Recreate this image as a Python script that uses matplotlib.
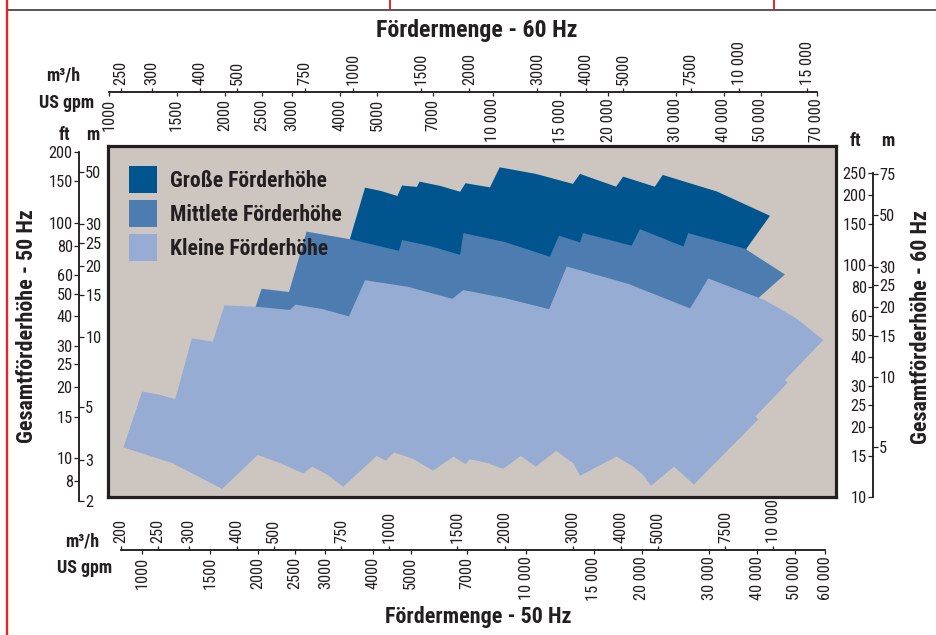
import matplotlib
matplotlib.use("Agg")
import matplotlib.pyplot as plt
from matplotlib.lines import Line2D
from matplotlib.patches import Patch
from matplotlib.ticker import NullLocator, FixedLocator, FixedFormatter

plt.rcParams['font.family'] = ['Roboto Condensed', 'DejaVu Sans']

# ---------------- data (flow in m³/h @50 Hz, head in m @50 Hz) ----------------
kleine_q = [203, 227, 250, 277, 306, 347, 372, 452, 551, 570, 672, 785, 865, 1120, 1460, 1560, 2000, 2610, 2900, 4190,
            6080, 6780, 9530, 11480, 13520, 10740, 10920, 9000, 9150, 6220, 5520, 4810, 4590, 4320, 3910, 3140, 3020,
            2720, 2410, 2200, 1980, 1790, 1620, 1580, 1470, 1300, 1160, 1030, 979, 927, 759, 692, 630, 597, 519, 454,
            367, 272]
kleine_h = [3.38, 5.84, 5.68, 5.43, 9.85, 9.53, 13.6, 13.4, 13.0, 13.7, 13.1, 12.2, 17.4, 16.3, 14.5, 15.8, 14.6, 13.1,
            19.9, 16.8, 13.2, 17.7, 14.3, 12.0, 9.69, 6.54, 6.37, 4.58, 4.45, 2.35, 2.80, 2.32, 2.58, 2.80, 3.09, 2.56,
            2.89, 3.27, 2.80, 3.11, 2.74, 2.91, 3.01, 2.87, 3.09, 2.69, 3.01, 3.22, 2.97, 3.11, 2.30, 2.58, 2.80, 2.62,
            2.90, 3.14, 2.25, 2.90]
mittel_q = [447, 465, 548, 609, 800, 1060, 1080, 1280, 1530, 1560, 2000, 2620, 2770, 3140, 3200, 4280, 4500, 5840,
            6010, 8450, 10740, 9150, 6450, 585]
mittel_h = [13.2, 16.0, 15.5, 28.0, 25.9, 23.2, 25.8, 24.3, 22.3, 27.6, 25.3, 21.9, 26.9, 25.2, 27.6, 24.4, 28.7, 24.2,
            27.6, 23.7, 18.4, 14.6, 10.7, 10.7]
gross_q = [790, 865, 952, 1050, 1080, 1180, 1200, 1360, 1530, 1580, 1830, 1940, 2410, 3010, 3140, 3900, 4070, 4920,
           5160, 7140, 9820, 8540, 8200, 839]
gross_h = [26.1, 43.1, 41.7, 39.7, 44.0, 43.4, 45.7, 43.8, 41.4, 45.0, 43.2, 52.6, 49.3, 44.7, 49.3, 43.5, 48.0, 43.5,
           48.8, 41.5, 32.7, 23.8, 18.3, 18.3]

series_names = ["Große Förderhöhe", "Mittlete Förderhöhe", "Kleine Förderhöhe"]

top_m3h = [250, 300, 400, 500, 750, 1000, 1500, 2000, 3000, 4000, 5000, 7500, 10000, 15000]
top_gpm = [1000, 1500, 2000, 2500, 3000, 4000, 5000, 7000, 10000, 15000, 20000, 30000, 40000, 50000, 70000]
bot_m3h = [200, 250, 300, 400, 500, 750, 1000, 1500, 2000, 3000, 4000, 5000, 7500, 10000]
bot_gpm = [1000, 1500, 2000, 2500, 3000, 4000, 5000, 7000, 10000, 15000, 20000, 30000, 40000, 50000, 60000]
left_ft = [200, 150, 100, 80, 60, 50, 40, 30, 25, 20, 15, 10, 8]
left_m = [50, 30, 25, 20, 15, 10, 5, 3, 2]
right_ft = [250, 200, 150, 100, 80, 60, 50, 40, 30, 25, 20, 15, 10]
right_m = [75, 50, 30, 25, 20, 15, 10, 5]

# ---------------- style ----------------
C_DARK = "#00558f"
C_MID = "#4c7cb0"
C_LIGHT = "#97acd3"
C_BG = "#cdc6c0"
C_INK = "#231f20"
C_RED = "#e2262c"

W, H = 936, 635
fig = plt.figure(figsize=(W / 100, H / 100), dpi=100)
fig.patch.set_facecolor("white")


def rect(x0, y0, x1, y1):
    return [x0 / W, 1 - y1 / H, (x1 - x0) / W, (y1 - y0) / H]


def lab(v):
    return "{:,}".format(v).replace(",", " ") if v >= 10000 else str(v)


# ---------------- main plot ----------------
ax = fig.add_axes(rect(108, 146, 836, 497))
ax.set_xscale("log")
ax.set_yscale("log")
ax.set_xlim(185, 14590)
ax.set_ylim(2.08, 64.8)
ax.set_facecolor(C_BG)
ax.xaxis.set_major_locator(NullLocator()); ax.xaxis.set_minor_locator(NullLocator())
ax.yaxis.set_major_locator(NullLocator()); ax.yaxis.set_minor_locator(NullLocator())
for s in ax.spines.values():
    s.set_linewidth(2.3)
    s.set_color(C_INK)
ax.fill(gross_q, gross_h, color=C_DARK, lw=0, zorder=1)
ax.fill(mittel_q, mittel_h, color=C_MID, lw=0, zorder=2)
ax.fill(kleine_q, kleine_h, color=C_LIGHT, lw=0, zorder=3)

handles = [Patch(facecolor=c, edgecolor="none") for c in (C_DARK, C_MID, C_LIGHT)]
leg = ax.legend(handles, series_names, loc="upper left", bbox_to_anchor=(21 / 728, 1 - 20 / 351),
                frameon=False, borderpad=0, borderaxespad=0, handlelength=1.29, handleheight=1.575,
                handletextpad=0.6, labelspacing=0.3,
                prop={"family": ['Roboto Condensed', 'DejaVu Sans'], "weight": "bold", "size": 15.6})
for t in leg.get_texts():
    t.set_color(C_INK)

TICK_FS = 11.8


def hscale(x0, x1, y, lim, ticks, side):
    a = fig.add_axes(rect(x0, y - 0.01, x1, y + 0.01))
    a.patch.set_visible(False)
    a.set_xscale("log")
    a.set_xlim(lim)
    a.set_yticks([])
    a.xaxis.set_minor_locator(NullLocator())
    a.xaxis.set_major_locator(FixedLocator(ticks))
    a.xaxis.set_major_formatter(FixedFormatter([lab(t) for t in ticks]))
    for k, s in a.spines.items():
        s.set_visible(k == side)
        s.set_linewidth(1.1)
        s.set_color(C_INK)
    if side == "top":
        a.tick_params(axis="x", top=True, bottom=False, labeltop=True, labelbottom=False,
                      direction="out", length=3.2, width=0.9, pad=1.5, labelrotation=90,
                      labelsize=TICK_FS, colors=C_INK)
    else:
        a.tick_params(axis="x", top=False, bottom=True, labeltop=False, labelbottom=True,
                      direction="out", length=3.2, width=0.9, pad=1.5, labelrotation=90,
                      labelsize=TICK_FS, colors=C_INK)
    return a


def vscale(x, y0, y1, lim, ticks, side):
    a = fig.add_axes(rect(x - 0.01, y0, x + 0.01, y1))
    a.patch.set_visible(False)
    a.set_yscale("log")
    a.set_ylim(lim)
    a.set_xticks([])
    a.yaxis.set_minor_locator(NullLocator())
    a.yaxis.set_major_locator(FixedLocator(ticks))
    a.yaxis.set_major_formatter(FixedFormatter([lab(t) for t in ticks]))
    for k, s in a.spines.items():
        s.set_visible(k == side)
        s.set_linewidth(1.1)
        s.set_color(C_INK)
    if side == "left":
        a.tick_params(axis="y", left=True, right=False, labelleft=True, labelright=False,
                      direction="out", length=3.5, width=0.9, pad=1.0, labelsize=TICK_FS, colors=C_INK)
    else:
        a.tick_params(axis="y", left=False, right=True, labelleft=False, labelright=True,
                      direction="out", length=3.5, width=0.9, pad=1.0, labelsize=TICK_FS, colors=C_INK)
    return a


# top 60 Hz flow scale
hscale(109, 817, 92, (232.7, 15920), top_m3h, "top")
hscale(109, 817, 92, (1000, 70000), top_gpm, "bottom")
# bottom 50 Hz flow scale
hscale(121, 825, 550, (200, 13627), bot_m3h, "top")
hscale(121, 825, 550, (880.6, 60000), bot_gpm, "bottom")
# left 50 Hz head scale
vscale(79, 152, 501, (6.56, 200), left_ft, "left")
vscale(79, 152, 501, (2.0, 60.96), left_m, "right")
# right 60 Hz head scale
vscale(873, 172.7, 497, (10, 250), right_ft, "left")
vscale(873, 172.7, 497, (3.048, 76.2), right_m, "right")

# ---------------- texts ----------------
bold = dict(weight="bold", color=C_INK)
fig.text(477 / W, 1 - 31 / H, "Fördermenge - 60 Hz", ha="center", va="center", fontsize=17.2, **bold)
fig.text(478 / W, 1 - 617 / H, "Fördermenge - 50 Hz", ha="center", va="center", fontsize=15.8, **bold)
fig.text(27 / W, 1 - 326 / H, "Gesamtförderhöhe - 50 Hz", ha="center", va="center", rotation=90, fontsize=15.8, **bold)
fig.text(921 / W, 1 - 327 / H, "Gesamtförderhöhe - 60 Hz", ha="center", va="center", rotation=90, fontsize=15.8, **bold)

fig.text(80 / W, 1 - 76 / H, "m³/h", ha="right", va="center", fontsize=13, **bold)
fig.text(94 / W, 1 - 103 / H, "US gpm", ha="right", va="center", fontsize=13, **bold)
fig.text(64 / W, 1 - 135 / H, "ft", ha="center", va="center", fontsize=13, **bold)
fig.text(93 / W, 1 - 135 / H, "m", ha="center", va="center", fontsize=13, **bold)
fig.text(855 / W, 1 - 141 / H, "ft", ha="center", va="center", fontsize=13, **bold)
fig.text(888 / W, 1 - 141 / H, "m", ha="center", va="center", fontsize=13, **bold)
fig.text(99 / W, 1 - 541 / H, "m³/h", ha="right", va="center", fontsize=13, **bold)
fig.text(112 / W, 1 - 568 / H, "US gpm", ha="right", va="center", fontsize=13, **bold)

# ---------------- page frame ----------------
fig.add_artist(Line2D([7 / W, 1], [1 - 10 / H, 1 - 10 / H], color="#3a3a3a", lw=1.2))
fig.add_artist(Line2D([6.5 / W, 6.5 / W], [0, 1], color=C_RED, lw=1.7))
fig.add_artist(Line2D([390 / W, 390 / W], [1 - 10 / H, 1], color=C_RED, lw=1.4))
fig.add_artist(Line2D([774 / W, 774 / W], [1 - 10 / H, 1], color=C_RED, lw=1.4))

fig.savefig("out.png", dpi=100)
